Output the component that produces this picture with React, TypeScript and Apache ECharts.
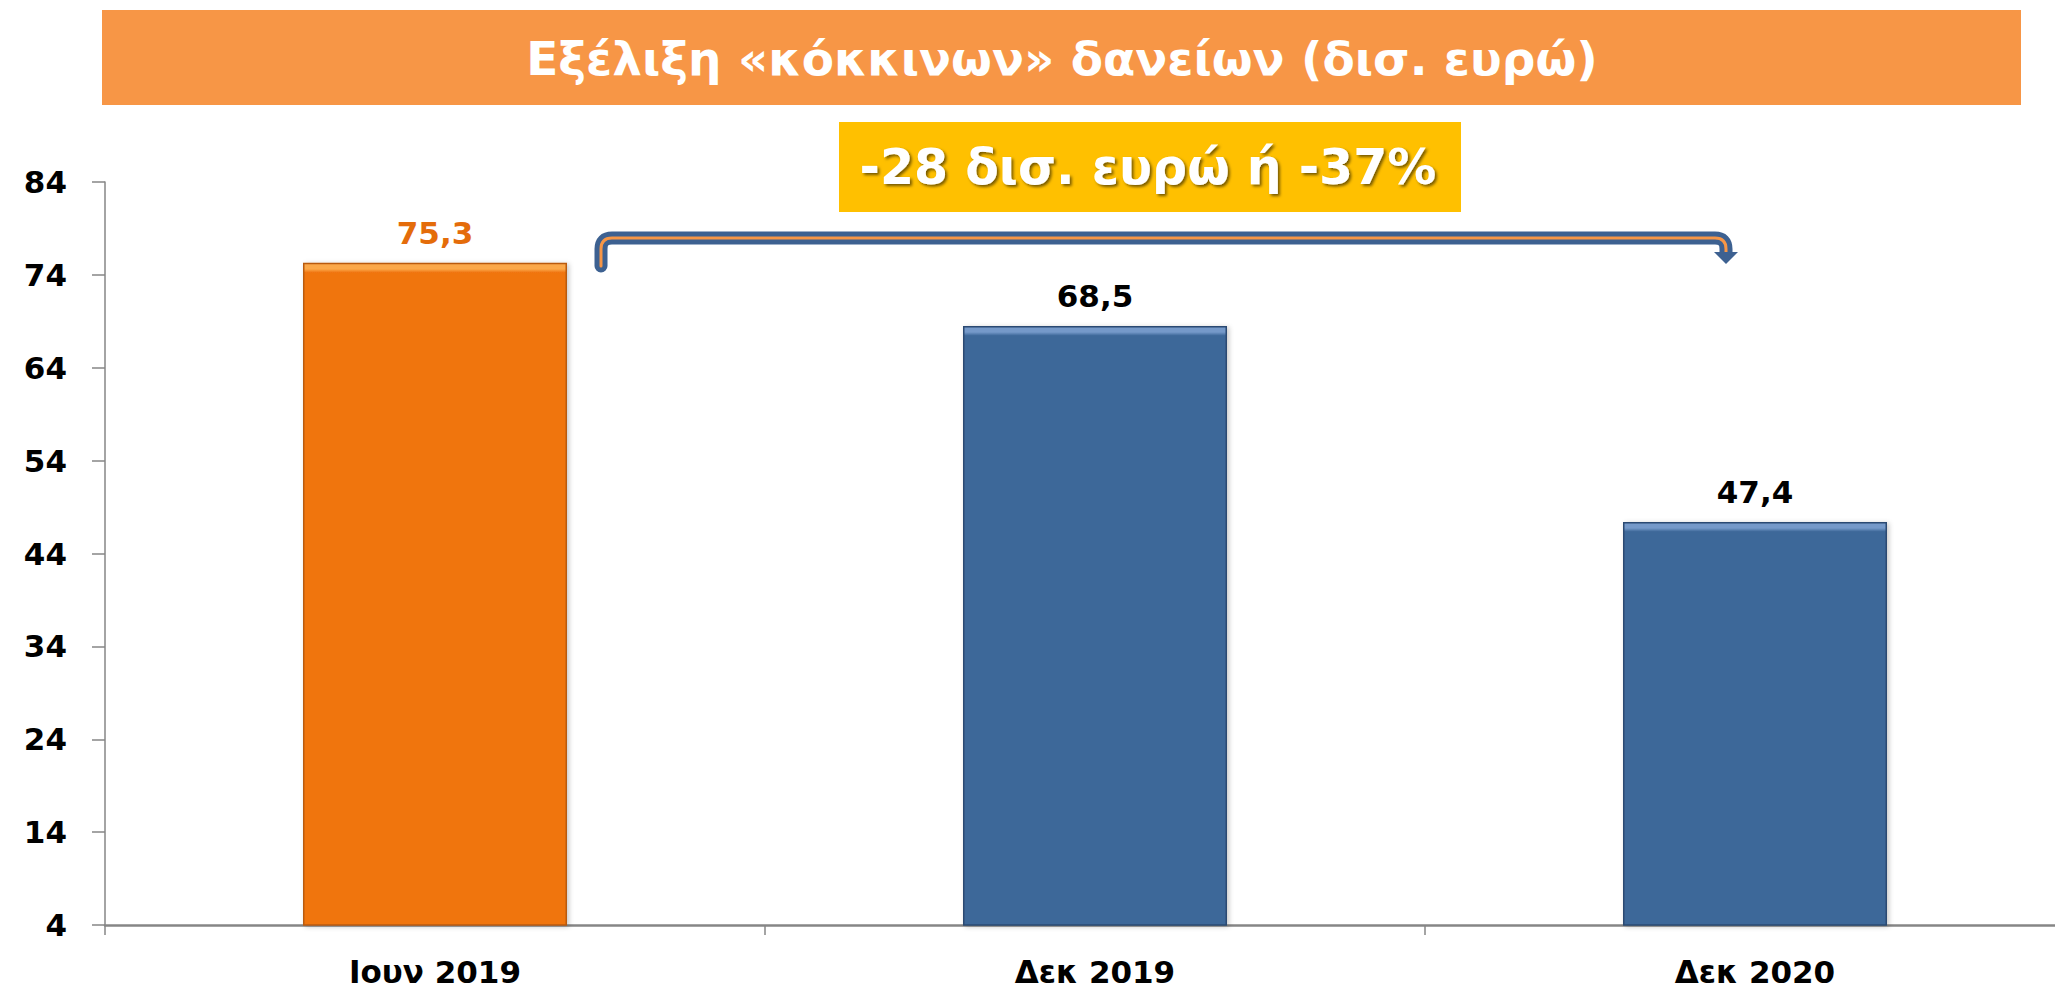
import React, { useEffect, useRef } from "react";
import * as echarts from "echarts";

const categories = ["Ιουν 2019", "Δεκ 2019", "Δεκ 2020"];
const values = [75.3, 68.5, 47.4];
const yTicks = [4, 14, 24, 34, 44, 54, 64, 74, 84];
const titleText = "Εξέλιξη «κόκκινων» δανείων (δισ. ευρώ)";
const changeText = "-28 δισ. ευρώ ή -37%";

const barColors = ["#F07511", "#3E6899", "#3E6899"];
const barTops = ["#FBA849", "#7499C9", "#7499C9"];
const barBorders = ["#B95A10", "#2A4A72", "#2A4A72"];
const labelColors = ["#E46C0A", "#000000", "#000000"];

const FONT = "'DejaVu Sans', 'Noto Sans', sans-serif";
const Y_MIN = 4;
const Y_MAX = 84;
const PLOT_H = 743;

echarts.graphic.registerShape(
  "bracketArrow",
  echarts.graphic.extendPath(
    "M601 266 L601 249 Q601 238 612 238 L1715 238 Q1726 238 1726 249 L1726 254",
    {}
  )
);

function barFill(v: number, i: number) {
  const h = ((v - Y_MIN) / (Y_MAX - Y_MIN)) * PLOT_H;
  const s = Math.min(0.5, 9 / h);
  return {
    type: "linear",
    x: 0,
    y: 0,
    x2: 0,
    y2: 1,
    colorStops: [
      { offset: 0, color: barTops[i] },
      { offset: s * 0.6, color: barTops[i] },
      { offset: s, color: barColors[i] },
      { offset: 1, color: barColors[i] },
    ],
  };
}

export default function App() {
  const ref = useRef<HTMLDivElement>(null);
  useEffect(() => {
    if (!ref.current) return;
    const chart = echarts.init(ref.current, undefined, { renderer: "svg" });
    chart.setOption({
      animation: false,
      backgroundColor: "#ffffff",
      grid: {
        left: 105,
        width: 1980,
        top: 182,
        height: PLOT_H,
        containLabel: false,
        outerBoundsMode: "none",
      },
      xAxis: {
        type: "category",
        data: categories,
        axisLine: { show: true, lineStyle: { color: "#868686", width: 2.5 } },
        axisTick: { show: true, length: 10, alignWithLabel: false, lineStyle: { color: "#868686", width: 1.5 } },
        axisLabel: {
          margin: 31,
          color: "#000",
          fontFamily: FONT,
          fontWeight: "bold",
          fontSize: 31,
        },
        splitLine: { show: false },
      },
      yAxis: {
        type: "value",
        min: Y_MIN,
        max: Y_MAX,
        axisLine: { show: true, lineStyle: { color: "#868686", width: 1.5 } },
        axisTick: { show: true, length: 13, customValues: yTicks, lineStyle: { color: "#868686", width: 1.5 } },
        axisLabel: {
          customValues: yTicks,
          margin: 38,
          color: "#000",
          fontFamily: FONT,
          fontWeight: "bold",
          fontSize: 31,
        },
        splitLine: { show: false },
      },
      series: [
        {
          type: "bar",
          barWidth: "40%",
          clip: true,
          data: values.map((v, i) => ({
            value: v,
            itemStyle: {
              color: barFill(v, i),
              borderColor: barBorders[i],
              borderWidth: 1.5,
              shadowColor: "rgba(0,0,0,0.22)",
              shadowBlur: 5,
              shadowOffsetX: 2,
              shadowOffsetY: 1,
            },
            label: { color: labelColors[i] },
          })),
          label: {
            show: true,
            position: "top",
            distance: 14,
            fontFamily: FONT,
            fontWeight: "bold",
            fontSize: 31,
            formatter: (p: any) => String(p.value.toFixed(1)).replace(".", ","),
          },
        },
      ],
      graphic: [
        {
          type: "rect",
          shape: { x: 102, y: 10, width: 1919, height: 95 },
          style: { fill: "#F79646" },
        },
        {
          type: "text",
          style: {
            text: titleText,
            x: 1062,
            y: 58,
            fill: "#ffffff",
            font: `bold 47px ${FONT}`,
            textAlign: "center",
            textVerticalAlign: "middle",
            align: "center",
            verticalAlign: "middle",
          },
        },
        {
          type: "rect",
          shape: { x: 839, y: 122, width: 622, height: 90 },
          style: { fill: "#FFC000" },
        },
        {
          type: "text",
          style: {
            text: changeText,
            x: 1148,
            y: 167,
            fill: "#ffffff",
            font: `bold 49px ${FONT}`,
            textAlign: "center",
            textVerticalAlign: "middle",
            align: "center",
            verticalAlign: "middle",
            textShadowColor: "rgba(0,0,0,0.55)",
            textShadowBlur: 3,
            textShadowOffsetX: 2,
            textShadowOffsetY: 2,
          },
        },
        {
          type: "bracketArrow",
          x: 0,
          y: 0,
          style: { fill: null, stroke: "#3D6191", lineWidth: 13, lineCap: "round", lineJoin: "round" },
        },
        {
          type: "bracketArrow",
          x: 0,
          y: 0,
          style: { fill: null, stroke: "#F79646", lineWidth: 3, lineCap: "round", lineJoin: "round" },
        },
        {
          type: "polygon",
          shape: { points: [[1714, 252], [1738, 252], [1726, 264]] },
          style: { fill: "#3D6191" },
        },
      ],
    });
    return () => chart.dispose();
  }, []);
  return (
    <div
      ref={ref}
      style={{ position: "absolute", left: 0, top: 0, width: 2055, height: 992 }}
    />
  );
}
